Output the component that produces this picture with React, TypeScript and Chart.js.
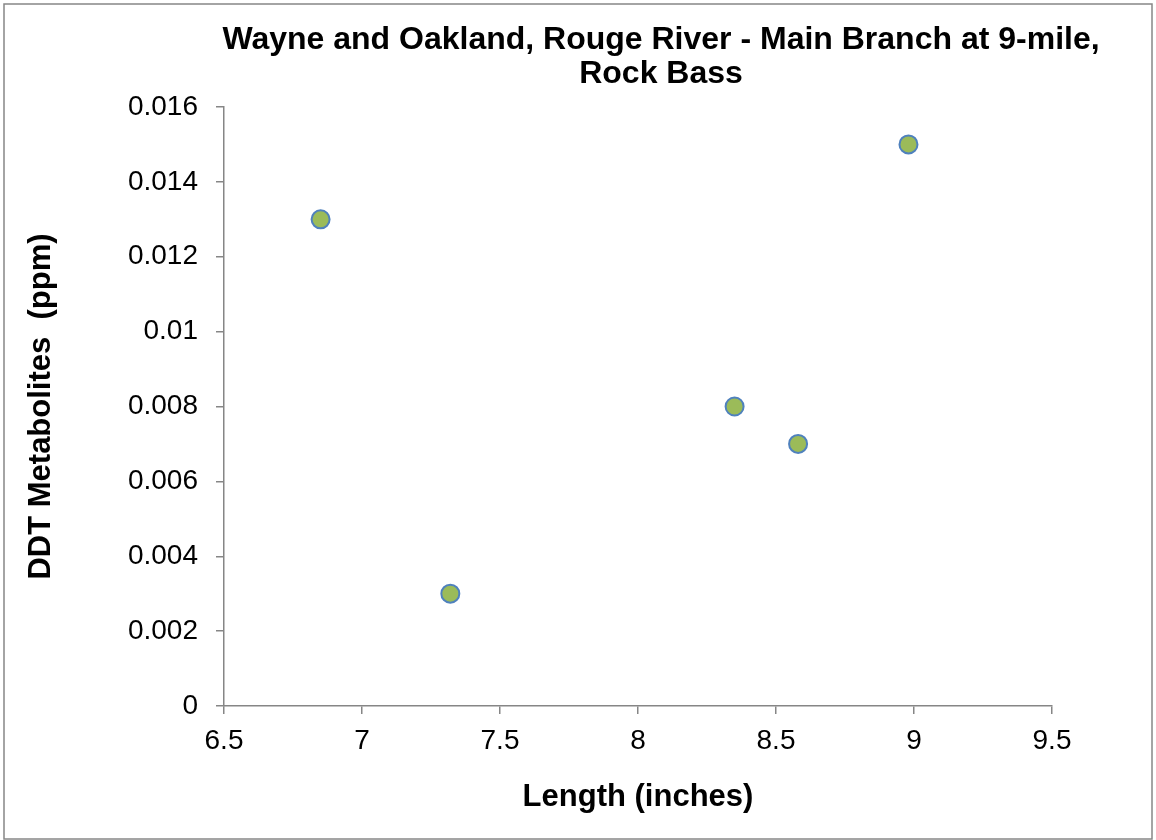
import React, { useEffect, useRef } from "react";
import { Chart, registerables } from "chart.js";

Chart.register(...registerables);

const titleLines = ["Wayne and Oakland, Rouge River - Main Branch at 9-mile,", "Rock Bass"];
const xAxisTitle = "Length (inches)";
const yAxisTitle = "DDT Metabolites  (ppm)";
const lengths = [6.85, 7.32, 8.35, 8.58, 8.98];
const ddt = [0.013, 0.003, 0.008, 0.007, 0.015];
const xTickLabels = ["6.5", "7", "7.5", "8", "8.5", "9", "9.5"];
const yTickLabels = ["0", "0.002", "0.004", "0.006", "0.008", "0.01", "0.012", "0.014", "0.016"];

const FONT = "'Liberation Sans', Arial, sans-serif";
const AXIS = "#868686";

const decorPlugin = {
  id: "decor",
  afterDraw(chart: any) {
    const ctx = chart.ctx;
    ctx.save();
    ctx.strokeStyle = "#878787";
    ctx.lineWidth = 1.5;
    ctx.strokeRect(4, 4, 1148, 835);
    ctx.fillStyle = "#000";
    ctx.font = `bold 32px ${FONT}`;
    ctx.textAlign = "center";
    ctx.textBaseline = "alphabetic";
    ctx.fillText(titleLines[0], 661, 49);
    ctx.fillText(titleLines[1], 661, 83);
    ctx.restore();
  },
};

export default function App() {
  const ref = useRef<HTMLCanvasElement | null>(null);
  useEffect(() => {
    document.body.style.margin = "0";
    const points = lengths.map((x, i) => ({ x, y: ddt[i] }));
    const chart = new Chart(ref.current as HTMLCanvasElement, {
      type: "scatter",
      data: {
        datasets: [
          {
            data: points,
            pointRadius: 9,
            pointHoverRadius: 9,
            pointBorderWidth: 2,
            pointBackgroundColor: "#9bbb59",
            pointBorderColor: "#4f81bd",
          },
        ],
      },
      options: {
        responsive: false,
        animation: false,
        devicePixelRatio: 1,
        layout: { padding: { top: 107, right: 104, bottom: 0, left: 0 } },
        plugins: { legend: { display: false }, tooltip: { enabled: false }, title: { display: false } },
        scales: {
          x: {
            type: "linear",
            min: 6.5,
            max: 9.5,
            afterFit(scale: any) {
              scale.height = 134;
            },
            afterBuildTicks(scale: any) {
              scale.ticks = xTickLabels.map((t) => ({ value: parseFloat(t) }));
            },
            ticks: {
              callback: (_v: any, i: number) => xTickLabels[i],
              font: { family: FONT, size: 28 },
              color: "#000",
              padding: 10,
              maxRotation: 0,
            },
            grid: { drawOnChartArea: false, drawTicks: true, tickLength: 8, color: AXIS, lineWidth: 1.5 },
            border: { display: true, color: AXIS, width: 1.5 },
            title: {
              display: true,
              text: xAxisTitle,
              color: "#000",
              font: { family: FONT, size: 31, weight: "bold" },
              padding: { top: 0, bottom: 24 },
            },
          },
          y: {
            type: "linear",
            min: 0,
            max: 0.016,
            afterFit(scale: any) {
              scale.width = 224;
            },
            afterBuildTicks(scale: any) {
              scale.ticks = yTickLabels.map((t) => ({ value: parseFloat(t) }));
            },
            ticks: {
              callback: (_v: any, i: number) => yTickLabels[i],
              font: { family: FONT, size: 28 },
              color: "#000",
              padding: 18,
            },
            grid: { drawOnChartArea: false, drawTicks: true, tickLength: 8, color: AXIS, lineWidth: 1.5 },
            border: { display: true, color: AXIS, width: 1.5 },
            title: {
              display: true,
              text: yAxisTitle,
              color: "#000",
              font: { family: FONT, size: 31, weight: "bold" },
              padding: { top: 23, bottom: 0 },
            },
          },
        },
      },
      plugins: [decorPlugin],
    });
    return () => chart.destroy();
  }, []);
  return (
    <div style={{ width: 1156, height: 840, background: "#fff" }}>
      <canvas ref={ref} width={1156} height={840} style={{ display: "block" }} />
    </div>
  );
}
